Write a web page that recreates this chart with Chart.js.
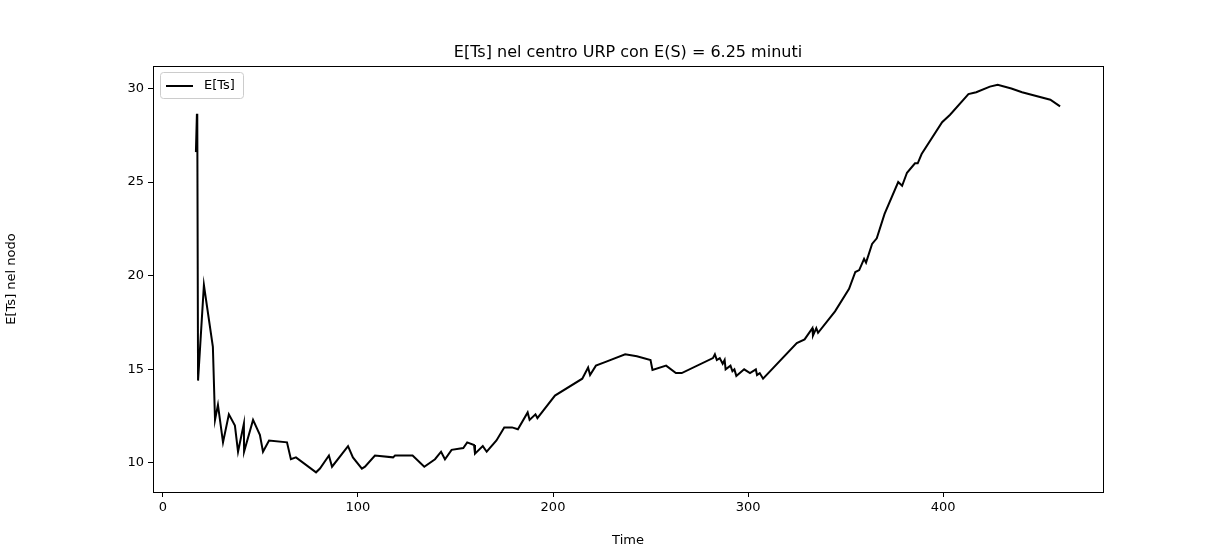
<!DOCTYPE html>
<html><head><meta charset="utf-8">
<script src="https://cdn.jsdelivr.net/npm/chart.js@4"></script>
<style>html,body{margin:0;padding:0;background:#fff}#w{width:1225px;height:552px}</style>
</head><body><div id="w"><canvas id="c"></canvas></div>
<script>
const timeValues = [16.9,17.4,17.6,18,21,25.6,26.7,28.2,30.8,33.8,36.9,38.5,41.5,41.6,46.2,49.7,51.3,54.4,63.6,65.6,68.2,78.5,80.5,85.1,86.7,94.9,97.4,102,103.6,108.7,118,119,128,134,139.5,142.6,144.6,148,154,156,159.5,160,164,166,171,175,179,182,187,188,191,192,201,215,218,219,222,227,237,243,250,251,258,263,266,282,283,284,285.5,287,288,288.5,291,292,293,294,298,301,304,304.6,306,307.7,325,329,333,333.3,335,335.9,344.6,351.8,355,357,359.5,360.5,363.6,366,370,377,379,381.5,385.6,387,389,399.5,403.6,413,417,424,428,435,440.5,455,460];
const etsValues = [26.6,28.6,28.6,14.4,19.5,16.2,12.3,13.1,11.1,12.6,12.0,10.6,12.1,10.6,12.3,11.5,10.6,11.2,11.1,10.2,10.3,9.5,9.7,10.4,9.8,10.9,10.3,9.7,9.8,10.4,10.3,10.4,10.4,9.8,10.2,10.6,10.2,10.7,10.8,11.1,10.96,10.5,10.9,10.6,11.2,11.9,11.9,11.8,12.7,12.3,12.6,12.4,13.6,14.5,15.1,14.7,15.2,15.4,15.8,15.7,15.5,14.97,15.2,14.8,14.8,15.6,15.8,15.5,15.6,15.3,15.5,15.0,15.2,14.9,15.0,14.65,15.0,14.8,15.0,14.7,14.8,14.5,16.4,16.6,17.2,16.8,17.2,16.95,18.1,19.3,20.2,20.3,20.9,20.7,21.7,22.0,23.3,25.0,24.8,25.5,26.0,26.0,26.5,28.2,28.6,29.7,29.8,30.1,30.2,30.0,29.8,29.4,29.04];
const xTicks = [0,100,200,300,400];
const yTicks = [10,15,20,25,30];
const titleText = 'E[Ts] nel centro URP con E(S) = 6.25 minuti';
const seriesLabel = 'E[Ts]';

const pts = timeValues.map((t,i)=>({x:t,y:etsValues[i]}));
const F = "'DejaVu Sans', sans-serif";
const deco = {
  id:'deco',
  afterDraw(ch){
    const c=ch.ctx, a=ch.chartArea;
    c.save();
    c.strokeStyle='#000'; c.lineWidth=1;
    c.strokeRect(a.left+0.5,a.top+0.5,a.right-a.left,a.bottom-a.top);
    c.fillStyle='#000'; c.font='16px '+F; c.textAlign='center'; c.textBaseline='alphabetic';
    c.fillText(titleText,(a.left+a.right)/2,57);
    // legend
    c.strokeStyle='#ccc'; c.fillStyle='#fff';
    c.beginPath(); c.roundRect(160.5,72.5,83,26,3); c.fill(); c.stroke();
    c.strokeStyle='#000'; c.lineWidth=2; c.beginPath(); c.moveTo(166,86); c.lineTo(193,86); c.stroke();
    c.fillStyle='#000'; c.font='13px '+F; c.textAlign='left'; c.textBaseline='middle';
    c.fillText(seriesLabel,204,86);
    c.restore();
  }
};
new Chart(document.getElementById('c'),{
  type:'line',
  data:{datasets:[{label:seriesLabel,data:pts,borderColor:'#000',borderWidth:2,pointRadius:0,tension:0,fill:false}]},
  options:{
    responsive:true,maintainAspectRatio:false,animation:false,
    layout:{padding:{top:66,right:122,left:0,bottom:0}},
    plugins:{legend:{display:false},title:{display:false},tooltip:{enabled:false}},
    scales:{
      x:{type:'linear',min:-5.1,max:482,
        afterBuildTicks(s){s.ticks=xTicks.map(v=>({value:v}));},
        afterFit(s){s.height=60;},
        grid:{drawOnChartArea:false,drawTicks:true,tickLength:5,color:'#000'},
        border:{display:false},
        ticks:{color:'#000',font:{family:F,size:13},padding:3,maxRotation:0},
        title:{display:true,text:'Time',color:'#000',font:{family:F,size:13},padding:{top:2}}},
      y:{min:8.45,max:31.2,
        afterBuildTicks(s){s.ticks=yTicks.map(v=>({value:v}));},
        afterFit(s){s.width=153;},
        grid:{drawOnChartArea:false,drawTicks:true,tickLength:5,color:'#000'},
        border:{display:false},
        ticks:{color:'#000',font:{family:F,size:13},padding:4},
        title:{display:true,text:'E[Ts] nel nodo',color:'#000',font:{family:F,size:13},padding:{bottom:6}}}
    }
  },
  plugins:[deco]
});
</script></body></html>
